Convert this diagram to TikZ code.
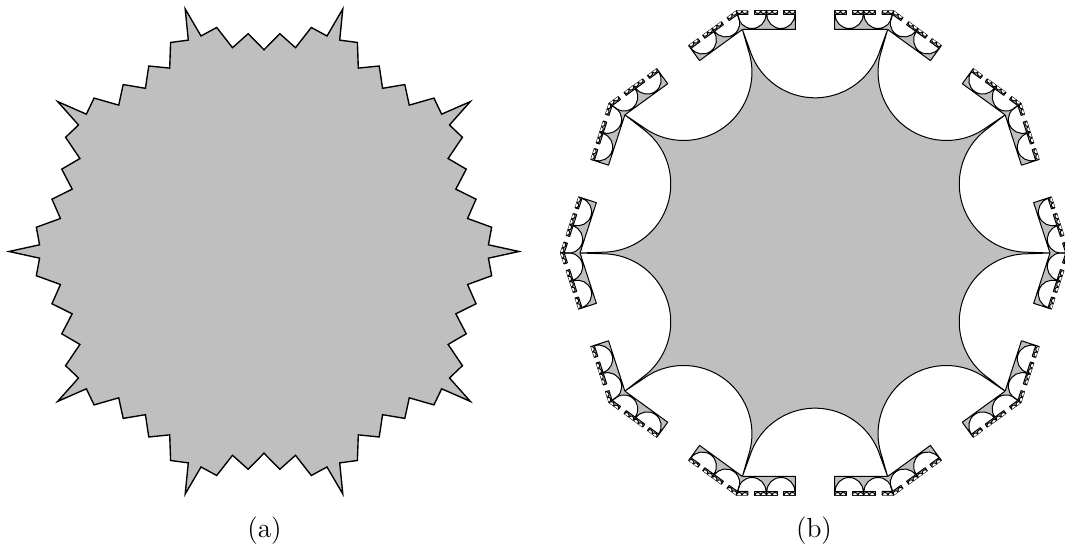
\documentclass[tikz,border=0pt]{standalone}
\usetikzlibrary{calc}
\definecolor{shade}{gray}{0.75}
\tikzset{
  barfill/.style={fill=shade},
  barline/.style={draw=black, line join=round},
}
% one bar with two half discs cut from its outer edge
\newcommand{\semibar}[4]{%
  \fill[barfill] (0,0) -- (#1,#2) -- ({#1+#3/2-#4},#2) arc[start angle=180, end angle=360, radius=#4]
    -- ({#1+1.5*#3-#4},#2) arc[start angle=180, end angle=360, radius=#4]
    -- ({#1+2*#3},#2) -- ({#1+2*#3},0) -- cycle;
  \draw[barline] (0,0) -- ({#1+2*#3},0) -- ({#1+2*#3},#2) -- ({#1+1.5*#3+#4},#2)
    arc[start angle=0, end angle=-180, radius=#4] -- ({#1+#3/2+#4},#2)
    arc[start angle=0, end angle=-180, radius=#4] -- (#1,#2);
}
% the smallest bars, closed along the outer edge as well
\newcommand{\tinybar}[4]{%
  \filldraw[barfill, barline] (0,0) -- (#1,#2) -- ({#1+2*#3},#2) -- ({#1+2*#3},0) -- cycle;
  \filldraw[fill=white, barline] ({#1+#3/2-#4},#2) arc[start angle=180, end angle=360, radius=#4]
    ({#1+1.5*#3-#4},#2) arc[start angle=180, end angle=360, radius=#4];
}
% first level bar with the small bars on top
\newcommand{\armrow}{%
  \semibar{-4.87}{15}{28.9}{14}
  \begin{scope}[line width=0.4pt]
    \begin{scope}[shift={(-4.87,15)}] \tinybar{-1.2}{3.6}{5.75}{2.7} \end{scope}
    \begin{scope}[shift={(24.03,15)}] \tinybar{0}{3.6}{5.75}{2.7} \end{scope}
    \begin{scope}[shift={(24.03,15)}, xscale=-1] \tinybar{0}{3.6}{5.75}{2.7} \end{scope}
    \begin{scope}[shift={(52.93,15)}, xscale=-1] \tinybar{0}{3.6}{5.75}{2.7} \end{scope}
  \end{scope}
}

\begin{document}
\begin{tikzpicture}[x=0.4pt, y=0.4pt]
  \useasboundingbox (0,0) rectangle (1065,544);

  % (a) spiky polygon
  \begin{scope}[shift={(264,292.5)}]
    \foreach \k in {0,...,9} {
      \coordinate (s\k-0) at (\k*36:255);
      \coordinate (s\k-10) at (\k*36+36:255);
      \foreach \i/\pos/\dep in {1/-63/27, 2/-47.3/18.5, 3/-31.5/38.7, 4/-15.8/24.7, 5/0/40.8,
                                6/15.8/24.7, 7/31.5/38.7, 8/47.3/18.5, 9/63/27}
        \coordinate (s\k-\i) at ($(\k*36+18:{242.5-\dep})+(\k*36+108:\pos)$);
    }
    \filldraw[fill=shade, line width=0.55pt] (s0-0)
      \foreach \k in {0,...,9} { \foreach \i in {1,...,10} { -- (s\k-\i) } } -- cycle;
  \end{scope}
  \node[anchor=base, font=\fontsize{11}{13}\selectfont] (la) at (264.5,6.4) {(a)};

  % (b) discs cut from a decagon
  \begin{scope}[shift={(815,291)}, line width=0.4pt]
    \filldraw[fill=shade] (0:235)
      \foreach \k in {0,...,9} {
        -- ($(\k*36+18:223.5)+(\k*36-90:68.3)$)
        arc[start angle=\k*36-90, end angle=\k*36-234, radius=68.3]
        -- (\k*36+36:235)
      } -- cycle;
    % bars at the corners
    \foreach \k in {0,...,9} {
      \begin{scope}[shift={(\k*36:235)}, rotate=\k*36-108] \armrow \end{scope}
      \begin{scope}[shift={(\k*36:235)}, rotate=\k*36+108, yscale=-1] \armrow \end{scope}
    }
  \end{scope}
  \node[anchor=base, font=\fontsize{11}{13}\selectfont] (lb) at (814,6.4) {(b)};
\end{tikzpicture}
\end{document}
